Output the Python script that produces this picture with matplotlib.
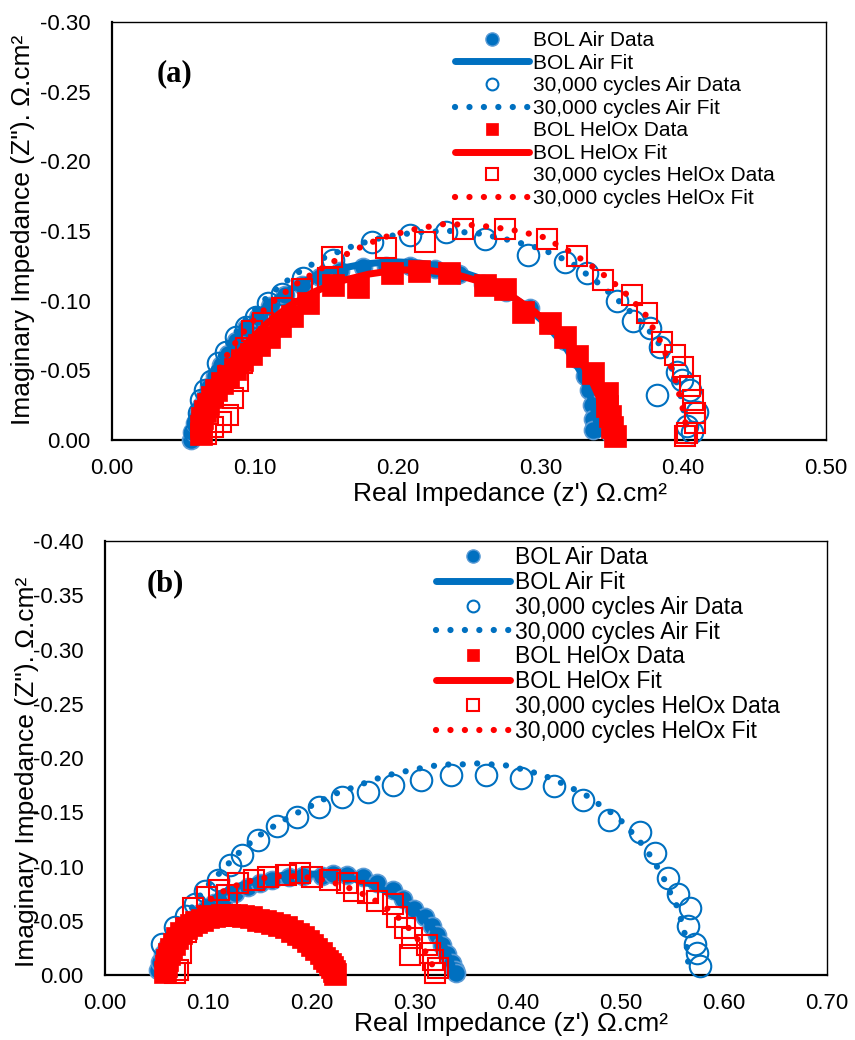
import matplotlib
matplotlib.use("Agg")
from matplotlib import pyplot as plt
from matplotlib.lines import Line2D
from matplotlib.ticker import MultipleLocator, FormatStrFormatter

plt.rcParams['font.family'] = ['Liberation Sans', 'DejaVu Sans']

BLUE = '#0070C0'
BLUE_RIM = '#5B9BD5'
RED = '#FF0000'

LABELS = [
    'BOL Air Data', 'BOL Air Fit',
    '30,000 cycles Air Data', '30,000 cycles Air Fit',
    'BOL HelOx Data', 'BOL HelOx Fit',
    '30,000 cycles HelOx Data', '30,000 cycles HelOx Fit',
]

# ---- panel (a) ----
a_bol_air_x = [0.055, 0.056, 0.058, 0.060, 0.062, 0.065, 0.068, 0.072, 0.076, 0.081, 0.087, 0.094,
               0.102, 0.111, 0.121, 0.133, 0.146, 0.160, 0.176, 0.192, 0.209, 0.226, 0.243, 0.260,
               0.276, 0.293, 0.306, 0.317, 0.326, 0.331, 0.334, 0.336, 0.337, 0.337, 0.349]
a_bol_air_y = [0.000, -0.006, -0.012, -0.018, -0.024, -0.031, -0.038, -0.046, -0.054, -0.062, -0.071, -0.080,
               -0.088, -0.096, -0.104, -0.111, -0.117, -0.121, -0.124, -0.125, -0.125, -0.123, -0.119, -0.112,
               -0.106, -0.095, -0.083, -0.071, -0.058, -0.046, -0.036, -0.025, -0.015, -0.007, -0.005]
a_bol_air_fit_x = [0.057, 0.060, 0.065, 0.072, 0.081, 0.092, 0.105, 0.120, 0.137, 0.155, 0.175, 0.195,
                   0.215, 0.235, 0.255, 0.273, 0.290, 0.305, 0.318, 0.328, 0.335, 0.339, 0.341]
a_bol_air_fit_y = [-0.003, -0.016, -0.031, -0.047, -0.063, -0.079, -0.093, -0.105, -0.115, -0.122, -0.126, -0.128,
                   -0.127, -0.124, -0.117, -0.108, -0.096, -0.082, -0.066, -0.049, -0.031, -0.015, -0.004]
a_cyc_air_x = [0.058, 0.060, 0.061, 0.062, 0.065, 0.069, 0.074, 0.080, 0.087, 0.094, 0.101, 0.109,
               0.119, 0.134, 0.155, 0.182, 0.209, 0.234, 0.261, 0.291, 0.317, 0.333, 0.354, 0.365,
               0.377, 0.384, 0.396, 0.399, 0.405, 0.410, 0.403, 0.406, 0.382]
a_cyc_air_y = [-0.005, -0.012, -0.019, -0.029, -0.036, -0.042, -0.055, -0.063, -0.074, -0.081, -0.088, -0.098,
               -0.105, -0.116, -0.129, -0.142, -0.147, -0.149, -0.144, -0.133, -0.128, -0.120, -0.100, -0.085,
               -0.080, -0.067, -0.049, -0.043, -0.036, -0.020, -0.010, -0.006, -0.032]
a_cyc_air_fit_x = [0.057, 0.059, 0.062, 0.067, 0.073, 0.081, 0.091, 0.103, 0.117, 0.133, 0.151, 0.171,
                   0.192, 0.214, 0.236, 0.258, 0.280, 0.301, 0.322, 0.340, 0.358, 0.375, 0.386, 0.393,
                   0.398, 0.401, 0.403]
a_cyc_air_fit_y = [-0.002, -0.014, -0.027, -0.041, -0.055, -0.069, -0.083, -0.097, -0.110, -0.122, -0.132, -0.140,
                   -0.146, -0.149, -0.150, -0.148, -0.143, -0.137, -0.127, -0.113, -0.097, -0.080, -0.065, -0.049,
                   -0.033, -0.018, -0.005]
a_bol_helox_x = [0.062, 0.062, 0.063, 0.065, 0.067, 0.070, 0.073, 0.077, 0.081, 0.086, 0.091, 0.097,
                 0.103, 0.110, 0.118, 0.126, 0.137, 0.155, 0.172, 0.196, 0.215, 0.236, 0.261, 0.275,
                 0.288, 0.307, 0.317, 0.326, 0.337, 0.347, 0.347, 0.349, 0.350, 0.352]
a_bol_helox_y = [-0.004, -0.010, -0.016, -0.021, -0.026, -0.031, -0.036, -0.041, -0.046, -0.051, -0.057, -0.062,
                 -0.068, -0.074, -0.082, -0.089, -0.098, -0.111, -0.110, -0.120, -0.121, -0.120, -0.111, -0.108,
                 -0.092, -0.084, -0.074, -0.060, -0.048, -0.034, -0.024, -0.017, -0.009, -0.003]
a_bol_helox_fit_x = [0.061, 0.064, 0.069, 0.076, 0.085, 0.096, 0.109, 0.124, 0.141, 0.160, 0.180, 0.200,
                     0.220, 0.240, 0.260, 0.279, 0.296, 0.311, 0.324, 0.334, 0.341, 0.345, 0.347]
a_bol_helox_fit_y = [-0.003, -0.016, -0.030, -0.044, -0.058, -0.071, -0.084, -0.096, -0.106, -0.114, -0.119, -0.122,
                     -0.122, -0.119, -0.113, -0.104, -0.092, -0.078, -0.063, -0.047, -0.031, -0.016, -0.004]
a_cyc_helox_x = [0.066, 0.071, 0.076, 0.081, 0.085, 0.088, 0.091, 0.094, 0.098, 0.106, 0.119, 0.133,
                 0.151, 0.154, 0.192, 0.219, 0.246, 0.275, 0.305, 0.326, 0.344, 0.364, 0.375, 0.385,
                 0.394, 0.400, 0.405, 0.407, 0.408, 0.408, 0.403, 0.401]
a_cyc_helox_y = [-0.004, -0.009, -0.013, -0.018, -0.030, -0.042, -0.055, -0.066, -0.078, -0.084, -0.095, -0.108,
                 -0.116, -0.131, -0.138, -0.142, -0.151, -0.151, -0.144, -0.132, -0.115, -0.104, -0.091, -0.070,
                 -0.061, -0.052, -0.039, -0.029, -0.019, -0.012, -0.005, -0.003]
a_cyc_helox_fit_x = [0.060, 0.062, 0.066, 0.072, 0.080, 0.090, 0.102, 0.116, 0.132, 0.150, 0.169, 0.189,
                     0.211, 0.233, 0.256, 0.279, 0.301, 0.321, 0.340, 0.357, 0.373, 0.384, 0.393, 0.399,
                     0.402, 0.403]
a_cyc_helox_fit_y = [-0.003, -0.016, -0.030, -0.045, -0.060, -0.075, -0.089, -0.102, -0.114, -0.125, -0.136, -0.145,
                     -0.151, -0.155, -0.154, -0.151, -0.146, -0.135, -0.122, -0.108, -0.091, -0.071, -0.049, -0.026,
                     -0.010, -0.003]

# ---- panel (b) ----
b_bol_air_x = [0.051, 0.053, 0.056, 0.060, 0.065, 0.070, 0.076, 0.083, 0.090, 0.098, 0.106, 0.115,
               0.126, 0.139, 0.150, 0.162, 0.178, 0.192, 0.210, 0.221, 0.235, 0.250, 0.264, 0.279,
               0.289, 0.300, 0.310, 0.317, 0.322, 0.327, 0.332, 0.336, 0.339, 0.340]
b_bol_air_y = [-0.005, -0.012, -0.019, -0.026, -0.032, -0.038, -0.044, -0.050, -0.056, -0.061, -0.066, -0.071,
               -0.076, -0.081, -0.085, -0.088, -0.090, -0.091, -0.091, -0.093, -0.092, -0.090, -0.085, -0.078,
               -0.070, -0.061, -0.053, -0.045, -0.037, -0.028, -0.019, -0.011, -0.005, -0.002]
b_bol_air_fit_x = [0.052, 0.055, 0.060, 0.067, 0.076, 0.087, 0.100, 0.114, 0.130, 0.147, 0.165, 0.184,
                   0.203, 0.222, 0.240, 0.257, 0.273, 0.287, 0.300, 0.311, 0.320, 0.327, 0.332, 0.336, 0.338]
b_bol_air_fit_y = [-0.003, -0.014, -0.025, -0.036, -0.047, -0.057, -0.067, -0.075, -0.082, -0.087, -0.091, -0.093,
                   -0.093, -0.092, -0.089, -0.084, -0.077, -0.069, -0.060, -0.050, -0.040, -0.030, -0.020, -0.010,
                   -0.003]
b_cyc_air_x = [0.055, 0.068, 0.078, 0.087, 0.097, 0.109, 0.121, 0.133, 0.148, 0.167, 0.186, 0.207,
               0.230, 0.255, 0.279, 0.306, 0.335, 0.369, 0.403, 0.435, 0.464, 0.489, 0.519, 0.533,
               0.546, 0.556, 0.567, 0.565, 0.572, 0.574, 0.577]
b_cyc_air_y = [-0.029, -0.044, -0.054, -0.065, -0.077, -0.088, -0.101, -0.111, -0.124, -0.137, -0.146, -0.155,
               -0.164, -0.169, -0.175, -0.180, -0.184, -0.184, -0.182, -0.174, -0.161, -0.143, -0.132, -0.112,
               -0.089, -0.075, -0.062, -0.045, -0.029, -0.020, -0.008]
b_cyc_air_fit_x = [0.054, 0.056, 0.060, 0.066, 0.073, 0.081, 0.089, 0.097, 0.107, 0.118, 0.129, 0.141,
                   0.153, 0.167, 0.181, 0.194, 0.208, 0.223, 0.238, 0.252, 0.267, 0.282, 0.298, 0.313,
                   0.328, 0.344, 0.361, 0.376, 0.391, 0.407, 0.422, 0.436, 0.451, 0.466, 0.478, 0.492,
                   0.503, 0.514, 0.524, 0.532, 0.541, 0.547, 0.554, 0.559, 0.563, 0.565, 0.566]
b_cyc_air_fit_y = [-0.003, -0.014, -0.025, -0.036, -0.047, -0.058, -0.069, -0.080, -0.090, -0.101, -0.112, -0.122,
                   -0.131, -0.139, -0.147, -0.153, -0.160, -0.167, -0.172, -0.177, -0.182, -0.186, -0.189, -0.192,
                   -0.194, -0.194, -0.195, -0.194, -0.193, -0.189, -0.185, -0.180, -0.173, -0.166, -0.158, -0.149,
                   -0.140, -0.128, -0.117, -0.105, -0.091, -0.078, -0.065, -0.050, -0.035, -0.020, -0.005]
b_bol_helox_x = [0.058, 0.059, 0.060, 0.062, 0.064, 0.067, 0.070, 0.074, 0.078, 0.083, 0.088, 0.094,
                 0.100, 0.106, 0.113, 0.120, 0.127, 0.134, 0.141, 0.148, 0.155, 0.162, 0.169, 0.175,
                 0.181, 0.187, 0.192, 0.197, 0.201, 0.205, 0.209, 0.212, 0.215, 0.218, 0.220, 0.222, 0.223]
b_bol_helox_y = [-0.003, -0.008, -0.014, -0.019, -0.024, -0.029, -0.034, -0.039, -0.043, -0.046, -0.049, -0.051,
                 -0.053, -0.054, -0.055, -0.055, -0.055, -0.054, -0.053, -0.051, -0.050, -0.048, -0.046, -0.044,
                 -0.041, -0.038, -0.035, -0.031, -0.028, -0.024, -0.020, -0.016, -0.013, -0.010, -0.007, -0.004,
                 -0.001]
b_bol_helox_fit_x = [0.059, 0.062, 0.067, 0.074, 0.083, 0.094, 0.106, 0.120, 0.134, 0.148, 0.162, 0.175,
                     0.187, 0.197, 0.205, 0.212, 0.218, 0.222]
b_bol_helox_fit_y = [-0.004, -0.019, -0.030, -0.039, -0.046, -0.051, -0.054, -0.055, -0.054, -0.051, -0.047, -0.043,
                     -0.037, -0.030, -0.023, -0.016, -0.009, -0.002]
b_cyc_helox_x = [0.068, 0.071, 0.074, 0.078, 0.085, 0.099, 0.110, 0.118, 0.129, 0.144, 0.158, 0.175,
                 0.189, 0.201, 0.218, 0.235, 0.241, 0.255, 0.264, 0.279, 0.283, 0.291, 0.298, 0.296,
                 0.312, 0.315, 0.318, 0.323, 0.320]
b_cyc_helox_y = [-0.002, -0.005, -0.020, -0.040, -0.062, -0.072, -0.078, -0.074, -0.085, -0.088, -0.090, -0.092,
                 -0.094, -0.090, -0.088, -0.085, -0.077, -0.076, -0.068, -0.065, -0.053, -0.043, -0.034, -0.018,
                 -0.028, -0.020, -0.014, -0.006, -0.002]
b_cyc_helox_fit_x = [0.062, 0.064, 0.068, 0.074, 0.082, 0.092, 0.104, 0.118, 0.134, 0.151, 0.169, 0.187,
                     0.205, 0.222, 0.240, 0.256, 0.270, 0.282, 0.292, 0.301, 0.308, 0.314, 0.318, 0.320]
b_cyc_helox_fit_y = [-0.003, -0.015, -0.027, -0.039, -0.051, -0.062, -0.071, -0.079, -0.085, -0.089, -0.091, -0.091,
                     -0.089, -0.085, -0.079, -0.072, -0.064, -0.055, -0.046, -0.036, -0.026, -0.016, -0.008, -0.002]

DOTS = (0, (0.01, 2.3))

# plot styles, in legend order
STYLES = [
    dict(ls='none', marker='o', ms=13, mfc=BLUE, mec=BLUE_RIM, mew=1.2),
    dict(ls='-', lw=5, color=BLUE, solid_capstyle='round'),
    dict(ls='none', marker='o', ms=15.5, mfc='none', mec=BLUE, mew=1.5),
    dict(ls=DOTS, lw=4.5, color=BLUE, dash_capstyle='round'),
    dict(ls='none', marker='s', ms=16, mfc=RED, mec=RED, mew=0.5),
    dict(ls='-', lw=5, color=RED, solid_capstyle='round'),
    dict(ls='none', marker='s', ms=14.5, mfc='none', mec=RED, mew=1.5),
    dict(ls=DOTS, lw=4.5, color=RED, dash_capstyle='round'),
]

# smaller markers for the legend keys
KEY_STYLES = [
    dict(ls='none', marker='o', ms=9.5, mfc=BLUE, mec=BLUE_RIM, mew=1.0),
    dict(ls='-', lw=5, color=BLUE, solid_capstyle='round'),
    dict(ls='none', marker='o', ms=8.5, mfc='none', mec=BLUE, mew=1.5),
    dict(ls=DOTS, lw=4.5, color=BLUE, dash_capstyle='round'),
    dict(ls='none', marker='s', ms=8.5, mfc=RED, mec=RED, mew=0.5),
    dict(ls='-', lw=5, color=RED, solid_capstyle='round'),
    dict(ls='none', marker='s', ms=8.0, mfc='none', mec=RED, mew=1.5),
    dict(ls=DOTS, lw=4.5, color=RED, dash_capstyle='round'),
]


def draw_panel(ax, series, xmax, ymin, tag, tag_xy, legend_xy, legend_size, spacing):
    for (x, y), style in zip(series, STYLES):
        ax.plot(x, y, clip_on=False, zorder=3, **style)

    ax.set_xlim(0, xmax)
    ax.set_ylim(0, ymin)
    ax.xaxis.set_major_locator(MultipleLocator(0.1))
    ax.yaxis.set_major_locator(MultipleLocator(0.05))
    ax.xaxis.set_major_formatter(FormatStrFormatter('%.2f'))
    ax.yaxis.set_major_formatter(FormatStrFormatter('%.2f'))
    ax.tick_params(length=0, labelsize=16)
    ax.tick_params(axis='x', pad=13)
    ax.tick_params(axis='y', pad=15.5)
    for side in ('left', 'bottom'):
        ax.spines[side].set_linewidth(1.6)
    for side in ('top', 'right'):
        ax.spines[side].set_linewidth(1.0)

    ax.set_xlabel("Real Impedance (z') \u03a9.cm\u00b2", fontsize=19)
    ax.set_ylabel('Imaginary Impedance (Z"). \u03a9.cm\u00b2', fontsize=19)

    ax.text(tag_xy[0], tag_xy[1], tag, transform=ax.transAxes, ha='center', va='center',
            fontsize=22, fontweight='bold', family='Liberation Serif')

    handles = [Line2D([], [], **s) for s in KEY_STYLES]
    hl = 74 / (legend_size * 100 / 72)
    ax.legend(handles, LABELS, loc='upper left', bbox_to_anchor=legend_xy,
              bbox_transform=ax.figure.transFigure, frameon=False, fontsize=legend_size,
              handlelength=hl, handletextpad=0.2, labelspacing=spacing,
              borderpad=0, borderaxespad=0)


fig = plt.figure(figsize=(8.55, 10.4), dpi=100)
ax_a = fig.add_axes([0.131, 0.577, 0.835, 0.402])
ax_b = fig.add_axes([0.123, 0.0625, 0.844, 0.4173])

series_a = [
    (a_bol_air_x, a_bol_air_y), (a_bol_air_fit_x, a_bol_air_fit_y),
    (a_cyc_air_x, a_cyc_air_y), (a_cyc_air_fit_x, a_cyc_air_fit_y),
    (a_bol_helox_x, a_bol_helox_y), (a_bol_helox_fit_x, a_bol_helox_fit_y),
    (a_cyc_helox_x, a_cyc_helox_y), (a_cyc_helox_fit_x, a_cyc_helox_fit_y),
]
series_b = [
    (b_bol_air_x, b_bol_air_y), (b_bol_air_fit_x, b_bol_air_fit_y),
    (b_cyc_air_x, b_cyc_air_y), (b_cyc_air_fit_x, b_cyc_air_fit_y),
    (b_bol_helox_x, b_bol_helox_y), (b_bol_helox_fit_x, b_bol_helox_fit_y),
    (b_cyc_helox_x, b_cyc_helox_y), (b_cyc_helox_fit_x, b_cyc_helox_fit_y),
]

draw_panel(ax_a, series_a, 0.5, -0.30, '(a)', (0.087, 0.876), (0.532, 0.970), 15, 0.17)
draw_panel(ax_b, series_b, 0.7, -0.40, '(b)', (0.084, 0.901), (0.510, 0.475), 16.5, 0.08)

# axis title placement
ax_a.xaxis.set_label_coords(0.557, -0.129)
ax_a.xaxis.label.set_va('center')
ax_a.yaxis.set_label_coords(-0.124, 0.502)
ax_a.yaxis.label.set_va('center')
ax_b.xaxis.set_label_coords(0.562, -0.114)
ax_b.xaxis.label.set_va('center')
ax_b.yaxis.set_label_coords(-0.109, 0.468)
ax_b.yaxis.label.set_va('center')

fig.savefig('out.png', dpi=100)
